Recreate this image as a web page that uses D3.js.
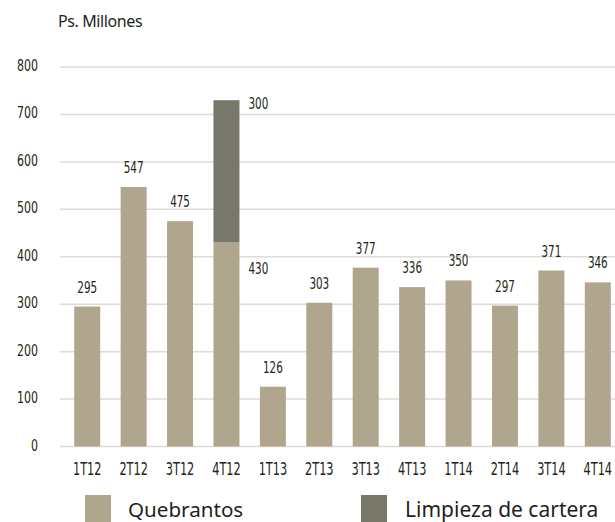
<!DOCTYPE html>
<html>
<head>
<meta charset="utf-8">
<script src="https://cdn.jsdelivr.net/npm/d3@7"></script>
<style>
  body { margin: 0; background: #fff; }
  svg { display: block; }
  text { fill: #231f20; }
</style>
</head>
<body>
<svg></svg>
<script>
const categories = ['1T12','2T12','3T12','4T12','1T13','2T13','3T13','4T13','1T14','2T14','3T14','4T14'];
const quebrantos = [295, 547, 475, 430, 126, 303, 377, 336, 350, 297, 371, 346];
const limpieza = [0, 0, 0, 300, 0, 0, 0, 0, 0, 0, 0, 0];
const yTicks = [0, 100, 200, 300, 400, 500, 600, 700, 800];
const seriesNames = ['Quebrantos', 'Limpieza de cartera'];
const colors = ['#b0a68e', '#77776a'];

const width = 615, height = 522;
const svg = d3.select('svg').attr('width', width).attr('height', height);
const condFont = 'DejaVu Sans Condensed, DejaVu Sans';

const x = d3.scaleBand()
    .domain(categories)
    .range([64, 621])
    .paddingInner(0.44)
    .paddingOuter(0.22);

const y = d3.scaleLinear()
    .domain([0, 800])
    .range([446.5, 67]);

// narrow text: place at (px, py) and squeeze horizontally
function narrow(sel, px, py, sx) {
  sel.attr('transform', (d, i) => `translate(${px(d, i)},${py(d, i)}) scale(${sx},1)`);
}

// gridlines
svg.append('g')
  .selectAll('line')
  .data(yTicks)
  .join('line')
    .attr('x1', 60)
    .attr('x2', width)
    .attr('y1', d => y(d))
    .attr('y2', d => y(d))
    .attr('stroke', '#e0dbd4')
    .attr('stroke-width', 1.5);

// y labels
svg.append('g')
  .selectAll('text')
  .data(yTicks)
  .join('text')
    .attr('text-anchor', 'end')
    .attr('font-family', condFont)
    .attr('font-size', 16.5)
    .call(narrow, () => 38, d => y(d) + 4, 0.74)
    .text(d => d);

svg.append('text')
    .attr('x', 58)
    .attr('y', 27)
    .attr('font-family', 'Noto Sans')
    .attr('font-size', 16)
    .attr('letter-spacing', -0.4)
    .text('Ps. Millones');

// bars
const data = categories.map((c, i) => ({ c, q: quebrantos[i], l: limpieza[i] }));

svg.append('g')
  .selectAll('rect')
  .data(data)
  .join('rect')
    .attr('x', d => x(d.c))
    .attr('width', x.bandwidth())
    .attr('y', d => y(d.q))
    .attr('height', d => y(0) - y(d.q))
    .attr('fill', colors[0]);

svg.append('g')
  .selectAll('rect')
  .data(data.filter(d => d.l > 0))
  .join('rect')
    .attr('x', d => x(d.c))
    .attr('width', x.bandwidth())
    .attr('y', d => y(d.q + d.l))
    .attr('height', d => y(d.q) - y(d.q + d.l))
    .attr('fill', colors[1]);

// value labels
svg.append('g')
  .selectAll('text')
  .data(data)
  .join('text')
    .attr('font-family', condFont)
    .attr('font-size', 15)
    .attr('text-anchor', d => d.l > 0 ? 'start' : 'middle')
    .call(narrow,
      d => d.l > 0 ? x(d.c) + x.bandwidth() + 9 : x(d.c) + x.bandwidth() / 2,
      d => d.l > 0 ? y(d.q) + 31 : y(d.q) - 14,
      0.77)
    .text(d => d.q);

svg.append('g')
  .selectAll('text')
  .data(data.filter(d => d.l > 0))
  .join('text')
    .attr('font-family', condFont)
    .attr('font-size', 15)
    .call(narrow, d => x(d.c) + x.bandwidth() + 9, d => y(d.q + d.l) + 9, 0.77)
    .text(d => d.l);

// category labels
svg.append('g')
  .selectAll('text')
  .data(categories)
  .join('text')
    .attr('font-family', condFont)
    .attr('font-size', 17)
    .attr('text-anchor', 'middle')
    .call(narrow, d => x(d) + x.bandwidth() / 2, () => 475, 0.74)
    .text(d => d);

// legend
const legendX = [85, 361];
const legend = svg.append('g')
  .selectAll('g')
  .data(seriesNames)
  .join('g')
    .attr('transform', (d, i) => `translate(${legendX[i]},495)`);

legend.append('rect')
    .attr('width', 26)
    .attr('height', 30)
    .attr('fill', (d, i) => colors[i]);

legend.append('text')
    .attr('x', (d, i) => i === 0 ? 43 : 44)
    .attr('y', 22)
    .attr('font-family', 'Noto Sans')
    .attr('font-size', (d, i) => i === 0 ? 20.6 : 21)
    .text(d => d);
</script>
</body>
</html>
